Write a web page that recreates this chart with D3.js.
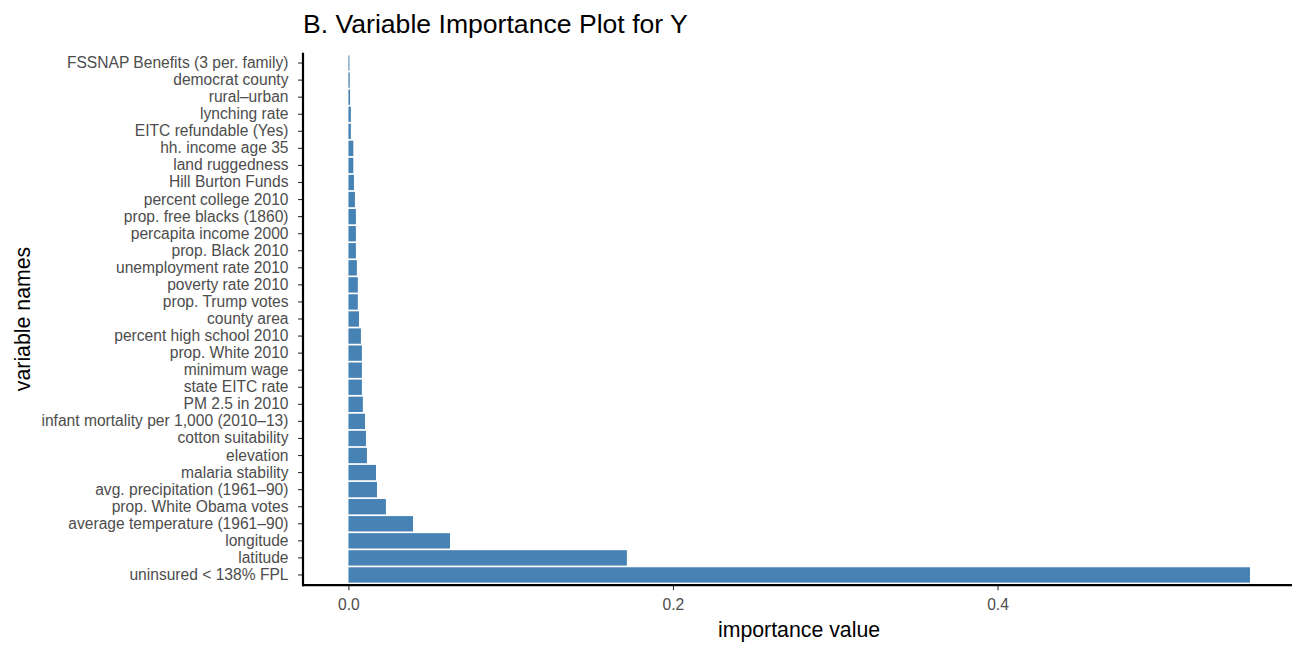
<!DOCTYPE html>
<html>
<head>
<meta charset="utf-8">
<script src="https://cdn.jsdelivr.net/npm/d3@7"></script>
<style>
  body { margin: 0; background: #fff; }
  svg text { font-family: "Liberation Sans", Arial, sans-serif; }
</style>
</head>
<body>
<svg id="chart" width="1298" height="646"></svg>
<script>
// Variable names, bottom (most important) to top
var variables = [
  "uninsured < 138% FPL", "latitude", "longitude", "average temperature (1961\u201390)",
  "prop. White Obama votes", "avg. precipitation (1961\u201390)", "malaria stability",
  "elevation", "cotton suitability", "infant mortality per 1,000 (2010\u201313)",
  "PM 2.5 in 2010", "state EITC rate", "minimum wage", "prop. White 2010",
  "percent high school 2010", "county area", "prop. Trump votes", "poverty rate 2010",
  "unemployment rate 2010", "prop. Black 2010", "percapita income 2000",
  "prop. free blacks (1860)", "percent college 2010", "Hill Burton Funds",
  "land ruggedness", "hh. income age 35", "EITC refundable (Yes)", "lynching rate",
  "rural\u2013urban", "democrat county", "FSSNAP Benefits (3 per. family)"
];
var importance = [
  0.5556, 0.1716, 0.0626, 0.0398,
  0.0231, 0.0176, 0.0170,
  0.0114, 0.0108, 0.0102,
  0.0089, 0.0083, 0.0083, 0.0083,
  0.0077, 0.0065, 0.0058, 0.0058,
  0.0052, 0.0046, 0.0046,
  0.0046, 0.0040, 0.0034,
  0.0030, 0.0030, 0.0015, 0.0015,
  0.0010, 0.0008, 0.0006
];
var xTicks = [0.0, 0.2, 0.4];

var data = variables.map(function(v, i) { return { name: v, value: importance[i] }; });

// Panel geometry
var panel = { left: 303, right: 1292, top: 52.8, bottom: 585.2 };

var svg = d3.select('#chart');

var xScale = d3.scaleLinear().domain([-0.028, 0.5815]).range([panel.left, panel.right]);
// top row is the last variable
var yScale = d3.scaleBand()
  .domain(variables.slice().reverse())
  .range([panel.top, panel.bottom])
  .paddingInner(0.1)
  .paddingOuter(0.15);

// Bars
svg.append('g').attr('class', 'bars')
  .selectAll('rect')
  .data(data).enter()
  .append('rect')
    .attr('x', xScale(0))
    .attr('y', function(d) { return yScale(d.name); })
    .attr('width', function(d) { return xScale(d.value) - xScale(0); })
    .attr('height', yScale.bandwidth())
    .style('fill', '#4682b4');

// Axes
var xAxis = d3.axisBottom(xScale).tickValues(xTicks).tickFormat(d3.format('.1f'))
  .tickSizeOuter(0).tickSizeInner(5).tickPadding(9);
var yAxis = d3.axisLeft(yScale).tickSizeOuter(0).tickSizeInner(5).tickPadding(9.5);

var gx = svg.append('g').attr('class', 'x axis')
  .attr('transform', 'translate(0,' + panel.bottom + ')')
  .call(xAxis);
var gy = svg.append('g').attr('class', 'y axis')
  .attr('transform', 'translate(' + panel.left + ',0)')
  .call(yAxis);

[gx, gy].forEach(function(g) {
  g.select('.domain').remove();
  g.selectAll('.tick line').style('stroke', '#333').style('stroke-width', 1.1);
  g.selectAll('.tick text').style('fill', '#4d4d4d').style('font-size', '15.6px');
});

// Axis lines drawn by hand so they meet at the corner
svg.append('line')
  .attr('x1', panel.left).attr('x2', panel.left)
  .attr('y1', panel.top).attr('y2', panel.bottom + 1)
  .style('stroke', '#000').style('stroke-width', 2.2);
svg.append('line')
  .attr('x1', panel.left - 1).attr('x2', panel.right)
  .attr('y1', panel.bottom).attr('y2', panel.bottom)
  .style('stroke', '#000').style('stroke-width', 2.2);

// Titles
svg.append('text')
  .attr('x', panel.left).attr('y', 33)
  .style('font-size', '26.6px').style('fill', '#000')
  .text('B. Variable Importance Plot for Y');

svg.append('text')
  .attr('x', 799).attr('y', 637)
  .attr('text-anchor', 'middle')
  .style('font-size', '21.3px').style('fill', '#000')
  .text('importance value');

svg.append('text')
  .attr('transform', 'translate(30,' + ((panel.top + panel.bottom) / 2) + ') rotate(-90)')
  .attr('text-anchor', 'middle')
  .style('font-size', '21.3px').style('fill', '#000')
  .text('variable names');
</script>
</body>
</html>
